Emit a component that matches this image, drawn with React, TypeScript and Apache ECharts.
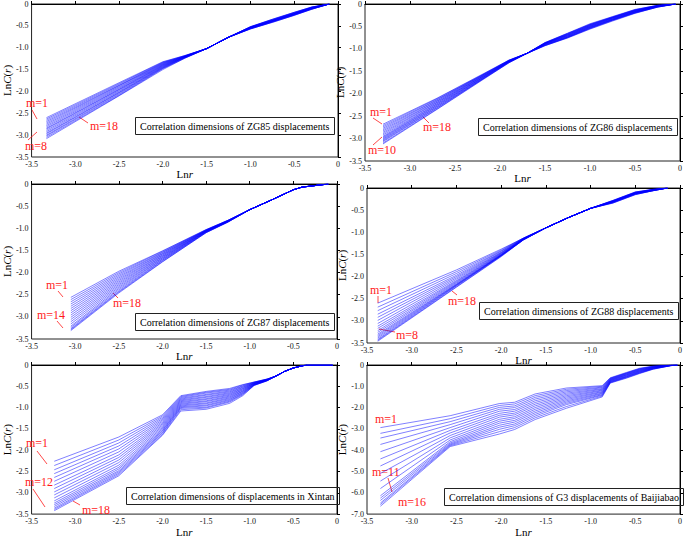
import React, { useEffect, useRef } from "react";
import * as echarts from "echarts";

// ---------- data: x positions (Lnr) and columns of LnC(r), one value per embedding dimension m ----------
const ZG85_LNR = [-3.33, -2.5, -2.0, -1.75, -1.5, -1.25, -1.0, -0.75, -0.5, -0.3, -0.1];
const ZG85_LNC: (number | number[])[] = [
  [-2.60, -2.63, -2.66, -2.69, -2.72, -2.75, -2.78, -2.81, -2.84, -2.86, -2.89, -2.92, -2.95, -2.97, -3.00, -3.02, -3.05, -3.08],
  [-1.80, -1.82, -1.84, -1.86, -1.87, -1.89, -1.91, -1.93, -1.95, -1.96, -1.98, -2.00, -2.02, -2.03, -2.05, -2.07, -2.09, -2.10],
  [-1.32, -1.33, -1.34, -1.35, -1.36, -1.37, -1.38, -1.39, -1.40, -1.41, -1.42, -1.43, -1.44, -1.45, -1.46, -1.47, -1.48, -1.50],
  [-1.18, -1.18, -1.19, -1.19, -1.19, -1.20, -1.20, -1.20, -1.21, -1.21, -1.21, -1.22, -1.22, -1.22, -1.23, -1.23, -1.24, -1.24],
  -1.02,
  -0.76,
  [-0.52, -0.52, -0.52, -0.53, -0.53, -0.53, -0.54, -0.54, -0.54, -0.55, -0.55, -0.55, -0.56, -0.56, -0.56, -0.57, -0.57, -0.57],
  [-0.35, -0.35, -0.36, -0.36, -0.37, -0.37, -0.38, -0.38, -0.38, -0.39, -0.39, -0.40, -0.40, -0.40, -0.41, -0.41, -0.42, -0.42],
  [-0.19, -0.19, -0.20, -0.20, -0.21, -0.21, -0.22, -0.22, -0.22, -0.23, -0.23, -0.24, -0.24, -0.24, -0.25, -0.25, -0.26, -0.26],
  [-0.07, -0.07, -0.07, -0.08, -0.08, -0.08, -0.09, -0.09, -0.09, -0.10, -0.10, -0.10, -0.11, -0.11, -0.11, -0.12, -0.12, -0.12],
  0,
];

const ZG86_LNR = [-3.30, -2.7, -2.2, -1.9, -1.7, -1.5, -1.25, -1.0, -0.75, -0.5, -0.25, -0.05];
const ZG86_LNC: (number | number[])[] = [
  [-2.68, -2.71, -2.74, -2.77, -2.80, -2.83, -2.86, -2.89, -2.92, -2.95, -2.97, -2.99, -3.01, -3.03, -3.05, -3.07, -3.10, -3.12],
  [-2.10, -2.11, -2.13, -2.14, -2.16, -2.17, -2.19, -2.20, -2.22, -2.23, -2.25, -2.26, -2.28, -2.29, -2.31, -2.32, -2.34, -2.35],
  [-1.57, -1.58, -1.59, -1.59, -1.60, -1.61, -1.62, -1.62, -1.63, -1.64, -1.65, -1.65, -1.66, -1.67, -1.68, -1.68, -1.69, -1.70],
  [-1.25, -1.25, -1.26, -1.26, -1.26, -1.27, -1.27, -1.27, -1.28, -1.28, -1.28, -1.29, -1.29, -1.29, -1.30, -1.30, -1.31, -1.31],
  -1.10,
  [-0.86, -0.86, -0.87, -0.87, -0.87, -0.88, -0.88, -0.88, -0.89, -0.89, -0.90, -0.90, -0.91, -0.91, -0.92, -0.92, -0.93, -0.93],
  [-0.65, -0.66, -0.66, -0.67, -0.68, -0.68, -0.69, -0.70, -0.70, -0.71, -0.72, -0.72, -0.73, -0.74, -0.74, -0.75, -0.75, -0.76],
  [-0.44, -0.45, -0.46, -0.46, -0.47, -0.48, -0.48, -0.49, -0.50, -0.50, -0.51, -0.52, -0.52, -0.53, -0.54, -0.54, -0.55, -0.56],
  [-0.28, -0.29, -0.29, -0.30, -0.30, -0.31, -0.31, -0.32, -0.32, -0.33, -0.34, -0.34, -0.35, -0.35, -0.36, -0.36, -0.37, -0.38],
  [-0.12, -0.13, -0.13, -0.14, -0.14, -0.15, -0.15, -0.16, -0.16, -0.17, -0.17, -0.18, -0.18, -0.19, -0.19, -0.20, -0.20, -0.21],
  [-0.03, -0.03, -0.03, -0.04, -0.04, -0.04, -0.04, -0.05, -0.05, -0.05, -0.05, -0.06, -0.06, -0.06, -0.06, -0.07, -0.07, -0.07],
  0,
];

const ZG87_LNR = [-3.05, -2.5, -2.0, -1.5, -1.25, -1.0, -0.75, -0.5, -0.4, -0.1];
const ZG87_LNC: (number | number[])[] = [
  [-2.56, -2.61, -2.66, -2.71, -2.76, -2.81, -2.86, -2.91, -2.96, -3.01, -3.06, -3.11, -3.16, -3.21, -3.24, -3.27, -3.29, -3.31],
  [-1.97, -2.00, -2.03, -2.06, -2.09, -2.12, -2.15, -2.18, -2.21, -2.24, -2.27, -2.30, -2.33, -2.36, -2.39, -2.42, -2.44, -2.46],
  [-1.51, -1.52, -1.54, -1.55, -1.57, -1.58, -1.60, -1.61, -1.63, -1.64, -1.66, -1.67, -1.69, -1.70, -1.72, -1.73, -1.75, -1.76],
  [-1.03, -1.03, -1.04, -1.04, -1.05, -1.05, -1.05, -1.06, -1.06, -1.07, -1.07, -1.07, -1.08, -1.08, -1.09, -1.09, -1.10, -1.10],
  [-0.82, -0.82, -0.82, -0.83, -0.83, -0.83, -0.83, -0.84, -0.84, -0.84, -0.84, -0.85, -0.85, -0.85, -0.85, -0.86, -0.86, -0.86],
  -0.58,
  -0.36,
  -0.13,
  -0.07,
  0,
];

const ZG88_LNR = [-3.38, -2.5, -2.0, -1.75, -1.5, -1.25, -1.0, -0.75, -0.5, -0.3, -0.14];
const ZG88_LNC: (number | number[])[] = [
  [-2.60, -2.69, -2.77, -2.85, -2.92, -2.99, -3.06, -3.12, -3.17, -3.22, -3.26, -3.30, -3.33, -3.36, -3.39, -3.42, -3.44, -3.46],
  [-1.85, -1.89, -1.93, -1.97, -2.00, -2.03, -2.06, -2.09, -2.11, -2.13, -2.15, -2.17, -2.18, -2.19, -2.20, -2.21, -2.23, -2.24],
  [-1.38, -1.40, -1.42, -1.43, -1.45, -1.46, -1.47, -1.48, -1.49, -1.50, -1.51, -1.51, -1.52, -1.52, -1.53, -1.53, -1.54, -1.55],
  [-1.13, -1.13, -1.13, -1.14, -1.14, -1.14, -1.15, -1.15, -1.15, -1.15, -1.16, -1.16, -1.16, -1.16, -1.17, -1.17, -1.17, -1.17],
  -0.90,
  -0.67,
  -0.46,
  [-0.28, -0.28, -0.29, -0.29, -0.29, -0.30, -0.30, -0.30, -0.31, -0.31, -0.31, -0.32, -0.32, -0.32, -0.33, -0.33, -0.34, -0.34],
  [-0.09, -0.09, -0.10, -0.10, -0.10, -0.11, -0.11, -0.11, -0.12, -0.12, -0.12, -0.13, -0.13, -0.13, -0.14, -0.14, -0.15, -0.15],
  [-0.03, -0.03, -0.03, -0.04, -0.04, -0.04, -0.04, -0.04, -0.05, -0.05, -0.05, -0.05, -0.05, -0.06, -0.06, -0.06, -0.06, -0.06],
  0,
];

const XINTAN_LNR = [-3.24, -2.5, -2.0, -1.79, -1.5, -1.23, -1.08, -0.95, -0.8, -0.7, -0.6, -0.5, -0.4, -0.35, -0.05];
const XINTAN_LNC: (number | number[])[] = [
  [-2.26, -2.36, -2.46, -2.55, -2.64, -2.73, -2.82, -2.90, -2.98, -3.05, -3.12, -3.19, -3.24, -3.28, -3.32, -3.36, -3.39, -3.42],
  [-1.69, -1.76, -1.83, -1.90, -1.97, -2.04, -2.11, -2.17, -2.23, -2.29, -2.35, -2.40, -2.44, -2.48, -2.51, -2.54, -2.57, -2.60],
  [-1.17, -1.20, -1.23, -1.26, -1.29, -1.32, -1.35, -1.38, -1.41, -1.44, -1.47, -1.50, -1.53, -1.55, -1.58, -1.60, -1.63, -1.65],
  [-0.72, -0.74, -0.76, -0.78, -0.80, -0.82, -0.84, -0.86, -0.88, -0.90, -0.92, -0.94, -0.96, -0.98, -1.00, -1.02, -1.05, -1.08],
  [-0.62, -0.64, -0.66, -0.69, -0.71, -0.74, -0.76, -0.79, -0.81, -0.84, -0.86, -0.89, -0.91, -0.94, -0.96, -0.99, -1.01, -1.04],
  [-0.55, -0.57, -0.59, -0.61, -0.63, -0.65, -0.67, -0.69, -0.71, -0.73, -0.75, -0.77, -0.79, -0.81, -0.83, -0.85, -0.87, -0.90],
  [-0.46, -0.47, -0.49, -0.50, -0.52, -0.53, -0.55, -0.56, -0.58, -0.59, -0.61, -0.62, -0.64, -0.65, -0.67, -0.68, -0.70, -0.72],
  [-0.40, -0.40, -0.41, -0.41, -0.42, -0.42, -0.43, -0.43, -0.44, -0.44, -0.45, -0.45, -0.46, -0.46, -0.47, -0.47, -0.48, -0.48],
  [-0.33, -0.33, -0.33, -0.34, -0.34, -0.34, -0.34, -0.35, -0.35, -0.35, -0.35, -0.36, -0.36, -0.36, -0.36, -0.37, -0.37, -0.37],
  -0.26,
  -0.15,
  -0.07,
  -0.02,
  0,
  0,
];

const G3_LNR = [-3.35, -2.57, -2.02, -1.85, -1.62, -1.27, -0.87, -0.78, -0.6, -0.45, -0.3, -0.1, -0.03];
const G3_LNC: (number | number[])[] = [
  [-2.94, -3.21, -3.43, -3.73, -4.07, -4.41, -4.74, -5.09, -5.45, -5.80, -6.14, -6.25, -6.36, -6.48, -6.55, -6.63],
  [-2.38, -2.52, -2.66, -2.80, -2.94, -3.07, -3.19, -3.31, -3.42, -3.52, -3.60, -3.66, -3.71, -3.75, -3.79, -3.83],
  [-1.81, -1.90, -1.99, -2.08, -2.17, -2.27, -2.36, -2.45, -2.55, -2.64, -2.73, -2.83, -2.92, -3.02, -3.13, -3.24],
  [-1.75, -1.83, -1.92, -2.00, -2.09, -2.17, -2.26, -2.34, -2.43, -2.51, -2.60, -2.68, -2.77, -2.85, -2.94, -3.03],
  [-1.36, -1.44, -1.52, -1.60, -1.68, -1.76, -1.84, -1.92, -2.00, -2.08, -2.16, -2.24, -2.32, -2.40, -2.48, -2.56],
  [-1.08, -1.14, -1.20, -1.26, -1.32, -1.38, -1.44, -1.50, -1.56, -1.62, -1.68, -1.74, -1.80, -1.86, -1.95, -2.03],
  [-0.97, -1.00, -1.04, -1.07, -1.11, -1.14, -1.18, -1.21, -1.25, -1.28, -1.32, -1.35, -1.39, -1.42, -1.46, -1.50],
  [-0.60, -0.62, -0.63, -0.65, -0.67, -0.68, -0.70, -0.72, -0.73, -0.75, -0.77, -0.78, -0.80, -0.82, -0.83, -0.85],
  [-0.35, -0.37, -0.39, -0.40, -0.42, -0.44, -0.46, -0.47, -0.49, -0.51, -0.53, -0.55, -0.56, -0.58, -0.60, -0.62],
  [-0.15, -0.17, -0.18, -0.20, -0.22, -0.23, -0.25, -0.27, -0.28, -0.30, -0.32, -0.33, -0.35, -0.37, -0.38, -0.40],
  [-0.05, -0.06, -0.07, -0.08, -0.09, -0.10, -0.11, -0.12, -0.13, -0.14, -0.15, -0.16, -0.17, -0.18, -0.19, -0.20],
  [0, 0, 0, -0.01, -0.01, -0.01, -0.01, -0.01, -0.02, -0.02, -0.02, -0.02, -0.02, -0.03, -0.03, -0.03],
  0,
];

const PANEL_TITLES = [
  "Correlation dimensions of ZG85 displacements",
  "Correlation dimensions of ZG86 displacements",
  "Correlation dimensions of ZG87 displacements",
  "Correlation dimensions of ZG88 displacements",
  "Correlation dimensions of displacements in Xintan",
  "Correlation dimensions of G3 displacements of Baijiabao",
];
const LINE_COUNTS = [18, 18, 18, 18, 18, 16];
const Y_MINS = [-3.5, -3.5, -3.5, -3.5, -3.5, -7];
const Y_STEPS = [0.5, 0.5, 0.5, 0.5, 0.5, 1];

// ---------- layout ----------
const GRIDS = [
  { left: 23, top: 3, width: 315, height: 154 },
  { left: 365, top: 3, width: 317, height: 158 },
  { left: 23, top: 184, width: 314, height: 155 },
  { left: 367, top: 188, width: 314, height: 155 },
  { left: 23, top: 365, width: 314, height: 155 },
  { left: 367, top: 365, width: 314, height: 155 },
];
const TITLE_POS = [
  [135, 117], [478, 118], [135, 313], [479, 302], [126, 487], [444, 488],
];
// [text, left x, center y]
const RED_LABELS: [string, number, number][] = [
  ["m=1", 26, 103], ["m=8", 25, 146], ["m=18", 90, 126],
  ["m=1", 370, 112], ["m=10", 368, 150], ["m=18", 423, 127],
  ["m=1", 46, 285], ["m=14", 37, 315], ["m=18", 113, 303],
  ["m=1", 370, 290], ["m=8", 396, 335], ["m=18", 448, 301],
  ["m=1", 26, 443], ["m=12", 25, 482], ["m=18", 82, 510],
  ["m=1", 375, 419], ["m=11", 372, 472], ["m=16", 398, 502],
];
const RED_ARROWS: [number, number, number, number][] = [
  [32, 110, 37, 119], [28, 140, 37, 132], [88, 123, 79, 117],
  [373, 118, 382, 124], [373, 145, 382, 137], [429, 123, 423, 117],
  [58, 291, 63, 297], [57, 321, 63, 328], [118, 298, 113, 293],
  [378, 296, 378, 303], [395, 332, 379, 329], [457, 295, 452, 291],
  [37, 451, 47, 464], [33, 489, 45, 507], [80, 505, 73, 501],
  [388, 478, 392, 492],
];

const PANELS: [number[], (number | number[])[]][] = [
  [ZG85_LNR, ZG85_LNC],
  [ZG86_LNR, ZG86_LNC],
  [ZG87_LNR, ZG87_LNC],
  [ZG88_LNR, ZG88_LNC],
  [XINTAN_LNR, XINTAN_LNC],
  [G3_LNR, G3_LNC],
];

const SERIF = "Liberation Serif";
const fmt = (v: number) => (v === 0 ? "0" : v.toFixed(1));

export default function App() {
  const ref = useRef<HTMLDivElement>(null);
  useEffect(() => {
    if (!ref.current) return;
    const chart = echarts.init(ref.current, null, { renderer: "svg" });

    const grid = GRIDS.map((g) => ({
      ...g,
      show: true,
      borderColor: "#222",
      borderWidth: 1,
      backgroundColor: "transparent",
    }));

    const nameStyle = {
      fontFamily: SERIF,
      fontSize: 11,
      color: "#000",
      rich: { i: { fontFamily: SERIF, fontSize: 11, fontStyle: "italic", color: "#000" } },
    };

    const xAxis = GRIDS.map((_, i) => ({
      gridIndex: i,
      type: "value",
      min: -3.5,
      max: 0,
      interval: 0.5,
      name: "Ln{i|r}",
      nameLocation: "middle",
      nameGap: 10,
      nameTextStyle: nameStyle,
      axisLine: { show: true, lineStyle: { color: "#000", width: 1 } },
      axisTick: { show: true, inside: true, length: 3, lineStyle: { color: "#000" } },
      axisLabel: { fontFamily: SERIF, fontSize: 8, color: "#111", margin: 3, formatter: fmt },
      splitLine: { show: false },
    }));

    const yAxis = GRIDS.map((_, i) => ({
      gridIndex: i,
      type: "value",
      min: Y_MINS[i],
      max: 0,
      interval: Y_STEPS[i],
      name: "Ln{i|C}({i|r})",
      nameLocation: "middle",
      nameRotate: 90,
      nameGap: 15,
      nameTextStyle: nameStyle,
      axisLine: { show: true, lineStyle: { color: "#000", width: 1 } },
      axisTick: { show: true, inside: true, length: 3, lineStyle: { color: "#000" } },
      axisLabel: { fontFamily: SERIF, fontSize: 8, color: "#111", margin: 3, formatter: fmt },
      splitLine: { show: false },
    }));

    const series: any[] = [];
    PANELS.forEach(([xs, cols], p) => {
      for (let m = 0; m < LINE_COUNTS[p]; m++) {
        series.push({
          type: "line",
          xAxisIndex: p,
          yAxisIndex: p,
          showSymbol: false,
          symbol: "none",
          silent: true,
          lineStyle: { color: "#0000ff", width: 0.5 },
          data: xs.map((x, k) => {
            const c = cols[k];
            return [x, typeof c === "number" ? c : c[m]];
          }),
        });
      }
    });

    const title = PANEL_TITLES.map((t, i) => ({
      text: t,
      left: TITLE_POS[i][0],
      top: TITLE_POS[i][1],
      padding: [4, 5],
      borderColor: "#222",
      borderWidth: 1,
      textStyle: { fontFamily: SERIF, fontSize: 10, fontWeight: "normal", color: "#000" },
    }));

    const graphic: any[] = [];
    RED_LABELS.forEach(([t, x, y]) => {
      graphic.push({
        type: "text",
        x,
        y,
        silent: true,
        style: {
          text: t,
          fill: "#ff1a1a",
          fontFamily: SERIF,
          fontSize: 12,
          textAlign: "left",
          textVerticalAlign: "middle",
        },
      });
    });
    RED_ARROWS.forEach(([x1, y1, x2, y2]) => {
      graphic.push({
        type: "line",
        silent: true,
        shape: { x1, y1, x2, y2 },
        style: { stroke: "#ff1a1a", lineWidth: 0.8 },
      });
    });

    chart.setOption({
      animation: false,
      backgroundColor: "#fff",
      grid,
      xAxis,
      yAxis,
      series,
      title,
      graphic,
    });
    return () => chart.dispose();
  }, []);

  return (
    <div
      ref={ref}
      style={{ position: "absolute", left: 0, top: 0, width: 685, height: 538 }}
    />
  );
}
